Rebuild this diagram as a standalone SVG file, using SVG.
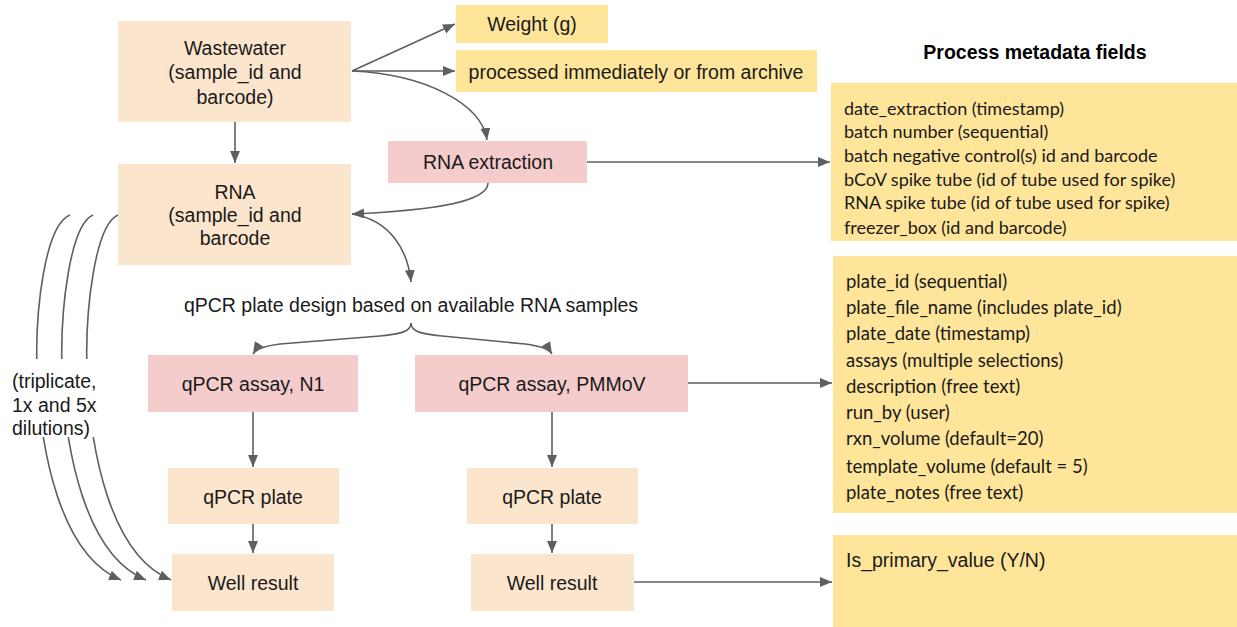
<svg xmlns="http://www.w3.org/2000/svg" width="1237" height="627" viewBox="0 0 1237 627">
<style>
.peach{fill:#fce5cd}
.pink{fill:#f4cccc}
.yel{fill:#ffe599}
.t{font-family:"Liberation Sans",Arial,sans-serif;font-size:19.5px;fill:#1a1a1a;text-anchor:middle}
.tl{font-family:"Liberation Sans",Arial,sans-serif;font-size:19.5px;fill:#1a1a1a}
.lst{font-family:Lato,"Open Sans",sans-serif;font-size:18px;fill:#1a1a1a}
.lst2{font-family:Lato,"Open Sans",sans-serif;font-size:18.5px;fill:#1a1a1a}
.hd{font-family:"Liberation Sans",Arial,sans-serif;font-size:19.5px;font-weight:bold;fill:#000;text-anchor:middle}
.c{fill:none;stroke:#5f5f5f;stroke-width:1.6}
</style>
<defs>
<marker id="ah" markerUnits="userSpaceOnUse" markerWidth="14" markerHeight="12" refX="12" refY="5" orient="auto">
<path d="M0,0 L12,5 L0,10 Z" fill="#5f5f5f"/>
</marker>
</defs>
<rect width="1237" height="627" fill="#ffffff"/>

<g id="wastewater">
<rect class="peach" x="118" y="21" width="233" height="101"/>
<text class="t" x="235" y="55">Wastewater</text>
<text class="t" x="235" y="79">(sample_id and</text>
<text class="t" x="235" y="104">barcode)</text>
</g>
<g id="weight">
<rect class="yel" x="456" y="5" width="152" height="38"/>
<text class="t" x="532" y="31">Weight (g)</text>
</g>
<g id="processed">
<rect class="yel" x="456" y="50" width="361" height="42"/>
<text class="t" x="636" y="79">processed immediately or from archive</text>
</g>
<g id="rna-extraction">
<rect class="pink" x="388" y="141" width="199" height="42"/>
<text class="t" x="488" y="169">RNA extraction</text>
</g>
<g id="rna">
<rect class="peach" x="118" y="164" width="233" height="101"/>
<text class="t" x="235" y="199">RNA</text>
<text class="t" x="235" y="222">(sample_id and</text>
<text class="t" x="235" y="245">barcode</text>
</g>
<g id="plate-design">
<text class="t" x="411" y="312">qPCR plate design based on available RNA samples</text>
</g>
<g id="assay-n1">
<rect class="pink" x="148" y="355" width="210" height="57"/>
<text class="t" x="253" y="391">qPCR assay, N1</text>
</g>
<g id="assay-pmmov">
<rect class="pink" x="415" y="355" width="273" height="57"/>
<text class="t" x="552" y="391">qPCR assay, PMMoV</text>
</g>
<g id="plate-n1">
<rect class="peach" x="168" y="468" width="171" height="56"/>
<text class="t" x="253" y="504">qPCR plate</text>
</g>
<g id="plate-pmmov">
<rect class="peach" x="467" y="468" width="171" height="56"/>
<text class="t" x="552" y="504">qPCR plate</text>
</g>
<g id="well-n1">
<rect class="peach" x="172" y="554" width="162" height="57"/>
<text class="t" x="253" y="590">Well result</text>
</g>
<g id="well-pmmov">
<rect class="peach" x="471" y="554" width="163" height="57"/>
<text class="t" x="552" y="590">Well result</text>
</g>

<g id="connectors">
<line class="c" x1="352" y1="71" x2="455" y2="24" marker-end="url(#ah)"/>
<line class="c" x1="352" y1="71" x2="455" y2="71" marker-end="url(#ah)"/>
<path class="c" d="M352,71 C425,74 482,104 487,140" marker-end="url(#ah)"/>
<line class="c" x1="235" y1="122" x2="235" y2="163" marker-end="url(#ah)"/>
<line class="c" x1="587" y1="162" x2="830" y2="162" marker-end="url(#ah)"/>
<path class="c" d="M488,183 C488,204 420,211 352,214" marker-end="url(#ah)"/>
<path class="c" d="M352,214 C390,220 408,250 411,282" marker-end="url(#ah)"/>
<path class="c" d="M411,323 C411,332 400,334 380,336 L280,344 C264,346 256,349 253,354" marker-end="url(#ah)"/>
<path class="c" d="M411,323 C411,332 422,334 442,336 L525,344 C541,346 549,349 552,354" marker-end="url(#ah)"/>
<line class="c" x1="253" y1="412" x2="253" y2="467" marker-end="url(#ah)"/>
<line class="c" x1="253" y1="524" x2="253" y2="553" marker-end="url(#ah)"/>
<line class="c" x1="552" y1="412" x2="552" y2="467" marker-end="url(#ah)"/>
<line class="c" x1="552" y1="524" x2="552" y2="553" marker-end="url(#ah)"/>
<line class="c" x1="688" y1="383" x2="832" y2="383" marker-end="url(#ah)"/>
<line class="c" x1="634" y1="582" x2="832" y2="582" marker-end="url(#ah)"/>
<path class="c" d="M70,215 C45,225 35,310 37,370 C40,450 60,555 121,580" marker-end="url(#ah)"/>
<path class="c" d="M93,215 C70,225 60,310 62,370 C65,450 85,555 146,580" marker-end="url(#ah)"/>
<path class="c" d="M118,215 C95,225 85,310 87,370 C90,450 110,555 171,580" marker-end="url(#ah)"/>
</g>

<g id="dilutions-label">
<rect x="4" y="359" width="104" height="78" fill="#ffffff"/>
<text class="tl" x="12" y="388">(triplicate,</text>
<text class="tl" x="12" y="412">1x and 5x</text>
<text class="tl" x="12" y="435">dilutions)</text>
</g>

<g id="metadata-title">
<text class="hd" x="1035" y="59">Process metadata fields</text>
</g>
<g id="extraction-metadata">
<rect class="yel" x="831" y="83" width="406" height="158"/>
<text class="lst" x="844" y="115">date_extraction (timestamp)</text>
<text class="lst" x="844" y="138">batch number (sequential)</text>
<text class="lst" x="844" y="162">batch negative control(s) id and barcode</text>
<text class="lst" x="844" y="186">bCoV spike tube (id of tube used for spike)</text>
<text class="lst" x="844" y="209">RNA spike tube (id of tube used for spike)</text>
<text class="lst" x="844" y="234">freezer_box (id and barcode)</text>
</g>
<g id="plate-metadata">
<rect class="yel" x="833" y="256" width="404" height="257"/>
<text class="lst2" x="846" y="288">plate_id (sequential)</text>
<text class="lst2" x="846" y="314">plate_file_name (includes plate_id)</text>
<text class="lst2" x="846" y="340">plate_date (timestamp)</text>
<text class="lst2" x="846" y="367">assays (multiple selections)</text>
<text class="lst2" x="846" y="393">description (free text)</text>
<text class="lst2" x="846" y="419">run_by (user)</text>
<text class="lst2" x="846" y="445">rxn_volume (default=20)</text>
<text class="lst2" x="846" y="473">template_volume (default = 5)</text>
<text class="lst2" x="846" y="499">plate_notes (free text)</text>
</g>
<g id="well-metadata">
<rect class="yel" x="833" y="535" width="404" height="92"/>
<text class="tl" x="846" y="567">Is_primary_value (Y/N)</text>
</g>
</svg>
